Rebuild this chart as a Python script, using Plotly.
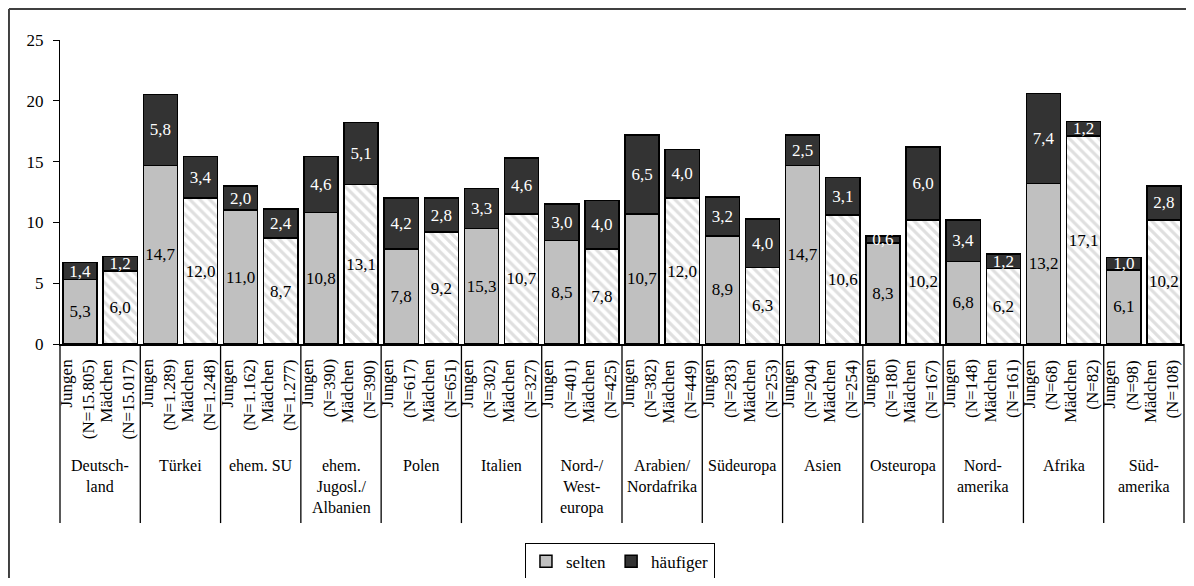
import plotly.graph_objects as go

regions = ["Deutsch-<br>land", "Türkei", "ehem. SU", "ehem.<br>Jugosl./<br>Albanien", "Polen", "Italien",
           "Nord-/<br>West-<br>europa", "Arabien/<br>Nordafrika", "Südeuropa", "Asien", "Osteuropa",
           "Nord-<br>amerika", "Afrika", "Süd-<br>amerika"]
n_jungen = ["15.805", "1.289", "1.162", "390", "617", "302", "401", "382", "283", "204", "180", "148", "68", "98"]
n_maedchen = ["15.017", "1.248", "1.277", "390", "651", "327", "425", "449", "253", "254", "167", "161", "82", "108"]

selten_jungen = [5.3, 14.7, 11.0, 10.8, 7.8, 9.5, 8.5, 10.7, 8.9, 14.7, 8.3, 6.8, 13.2, 6.1]
selten_jungen_labels = ["5,3", "14,7", "11,0", "10,8", "7,8", "15,3", "8,5", "10,7", "8,9", "14,7", "8,3", "6,8", "13,2", "6,1"]
haeufiger_jungen = [1.4, 5.8, 2.0, 4.6, 4.2, 3.3, 3.0, 6.5, 3.2, 2.5, 0.6, 3.4, 7.4, 1.0]
selten_maedchen = [6.0, 12.0, 8.7, 13.1, 9.2, 10.7, 7.8, 12.0, 6.3, 10.6, 10.2, 6.2, 17.1, 10.2]
haeufiger_maedchen = [1.2, 3.4, 2.4, 5.1, 2.8, 4.6, 4.0, 4.0, 4.0, 3.1, 6.0, 1.2, 1.2, 2.8]

ytick_vals = [0, 5, 10, 15, 20, 25]

FONT = "Liberation Serif"
ng = len(regions)
xj = [2 * i for i in range(ng)]
xm = [2 * i + 1 for i in range(ng)]

def fmt(v):
    return f"{v:.1f}".replace(".", ",")

fig = go.Figure()
fig.add_trace(go.Bar(
    x=xj, y=selten_jungen, name="selten", width=0.85,
    marker=dict(color="#c0c0c0", line=dict(color="black", width=1.5)),
    text=selten_jungen_labels, textposition="inside", insidetextanchor="middle",
    textangle=0, constraintext="none",
    textfont=dict(family=FONT, size=17, color="black"), legendrank=1,
))
fig.add_trace(go.Bar(
    x=xm, y=selten_maedchen, name="selten", width=0.85, showlegend=False,
    marker=dict(color="white", line=dict(color="black", width=1.5),
                pattern=dict(shape="\\", fgcolor="#c0c0c0", bgcolor="white", size=7, solidity=0.45)),
    text=[fmt(v) for v in selten_maedchen], textposition="inside", insidetextanchor="middle",
    textangle=0, constraintext="none",
    textfont=dict(family=FONT, size=17, color="black"),
))
hx = []
hy = []
for i in range(ng):
    hx += [xj[i], xm[i]]
    hy += [haeufiger_jungen[i], haeufiger_maedchen[i]]
fig.add_trace(go.Bar(
    x=hx, y=hy, name="häufiger", width=0.85,
    marker=dict(color="#333333", line=dict(color="black", width=1.5)),
    text=[fmt(v) for v in hy], textposition="inside", insidetextanchor="middle",
    textangle=0, constraintext="none",
    textfont=dict(family=FONT, size=17, color="white"), legendrank=2,
))

annotations = []
for i in range(ng):
    for xx, lbl, nn in ((xj[i], "Jungen", n_jungen[i]), (xm[i], "Mädchen", n_maedchen[i])):
        annotations.append(dict(
            x=xx - 0.07, y=0, xref="x", yref="y", text=f"{lbl}<br>(N={nn})",
            textangle=-90, showarrow=False, xanchor="center", yanchor="top", yshift=-13,
            align="right", font=dict(family=FONT, size=17, color="black")))
    annotations.append(dict(
        x=2 * i + 0.5, y=0, xref="x", yref="y", text=regions[i], showarrow=False,
        xanchor="center", yanchor="top", yshift=-111, align="center",
        font=dict(family=FONT, size=16, color="black")))

shapes = []
total = 2 * ng
for g in range(ng + 1):
    xp = (2 * g) / total
    shapes.append(dict(type="line", xref="paper", yref="paper", x0=xp, x1=xp, y0=0, y1=-0.589,
                       line=dict(color="black", width=1.3)))
# outer frame (partially visible)
shapes.append(dict(type="line", xref="paper", yref="paper", x0=-0.0454, x1=-0.0454, y0=1.102, y1=-1.0,
                   line=dict(color="#404040", width=2)))
shapes.append(dict(type="line", xref="paper", yref="paper", x0=-0.0454, x1=1.05, y0=1.102, y1=1.102,
                   line=dict(color="#404040", width=2)))

fig.update_layout(
    width=1178, height=570,
    margin=dict(l=52, r=2, t=32, b=234),
    barmode="stack",
    plot_bgcolor="white", paper_bgcolor="white",
    font=dict(family=FONT, size=16, color="black"),
    xaxis=dict(range=[-0.5, total - 0.5], showticklabels=False, ticks="", showgrid=False,
               zeroline=False, showline=True, linecolor="black", linewidth=1.5, automargin=False),
    yaxis=dict(range=[0, 25], tickvals=ytick_vals, ticks="outside", ticklen=6, tickcolor="black",
               showgrid=False, zeroline=False, showline=True, linecolor="black", linewidth=1.3,
               ticklabelstandoff=6, tickfont=dict(family=FONT, size=17), automargin=False),
    legend=dict(orientation="h", xref="container", yref="container", x=0.5195, xanchor="center",
                y=0.062, yanchor="top",
                bordercolor="black", borderwidth=1, font=dict(family=FONT, size=17),
                traceorder="normal", itemwidth=30, tracegroupgap=0),
    annotations=annotations,
    shapes=shapes,
    uniformtext=dict(mode=False),
)

fig.write_html("out.html")
